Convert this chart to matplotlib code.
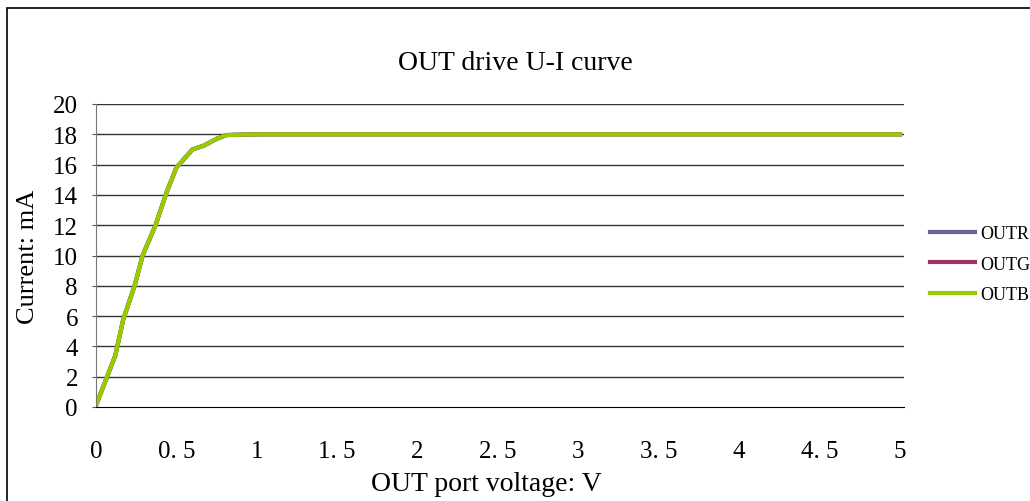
import matplotlib
matplotlib.use("Agg")
import matplotlib.pyplot as plt
from matplotlib.patches import Rectangle

plt.rcParams["font.family"] = ["Liberation Serif", "DejaVu Serif"]

# ---- Data ----
voltage = [0.0, 0.12, 0.17, 0.24, 0.29, 0.37, 0.44, 0.50, 0.60, 0.67, 0.75, 0.81, 1.0,
           1.5, 2.0, 2.5, 3.0, 3.5, 4.0, 4.5, 5.0]
outr = [0.1, 3.4, 5.8, 8.0, 10.0, 12.0, 14.2, 15.8, 17.0, 17.25, 17.7, 17.95, 18.0,
        18.0, 18.0, 18.0, 18.0, 18.0, 18.0, 18.0, 18.0]
outg = list(outr)
outb = list(outr)

x_ticks = [0, 0.5, 1, 1.5, 2, 2.5, 3, 3.5, 4, 4.5, 5]
x_labels = ["0", "0. 5", "1", "1. 5", "2", "2. 5", "3", "3. 5", "4", "4. 5", "5"]
y_ticks = list(range(0, 21, 2))

fig = plt.figure(figsize=(10.30, 5.02), dpi=100)
# outer chart border (runs off the right and bottom edges)
fig.patches.append(Rectangle((7 / 1030, -0.1), 1.2, 1 - 9 / 502 + 0.1, transform=fig.transFigure,
                             fill=False, edgecolor="black", lw=1.2))

ax = fig.add_axes([96 / 1030, 94 / 502, 808 / 1030, 303 / 502])
ax.plot(voltage, outr, color="#666699", lw=3, label="OUTR")
ax.plot(voltage, outg, color="#993366", lw=3, label="OUTG")
ax.plot(voltage, outb, color="#99cc00", lw=3, label="OUTB")

ax.set_xlim(0, 5.025)
ax.set_ylim(0, 20)
ax.set_yticks(y_ticks)
ax.set_xticks(x_ticks)
ax.set_xticklabels(x_labels)
for y in y_ticks[1:]:
    ax.axhline(y, color="#333333", lw=1, zorder=0)
for s in ["top", "right"]:
    ax.spines[s].set_visible(False)
ax.spines["left"].set_color("#777777")
ax.spines["bottom"].set_color("black")
ax.tick_params(axis="y", length=3, labelsize=18, pad=10, color="#555555")
ax.tick_params(axis="x", length=0, labelsize=18, pad=24)

ax.set_title("OUT drive U-I curve", fontsize=20, pad=25, x=(515 - 96) / 808)
ax.set_xlabel("OUT port voltage: V", fontsize=20, labelpad=6)
ax.xaxis.label.set_x((486 - 96) / 808)
ax.set_ylabel("Current: mA", fontsize=19, labelpad=10)

ax.legend(loc="center left", bbox_to_anchor=(930 / 1030, 1 - 265 / 502),
          bbox_transform=fig.transFigure, frameon=False, fontsize=13,
          borderpad=0, borderaxespad=0, handlelength=2.5, handletextpad=0.3,
          labelspacing=0.75)

fig.savefig("out.png", dpi=100)
